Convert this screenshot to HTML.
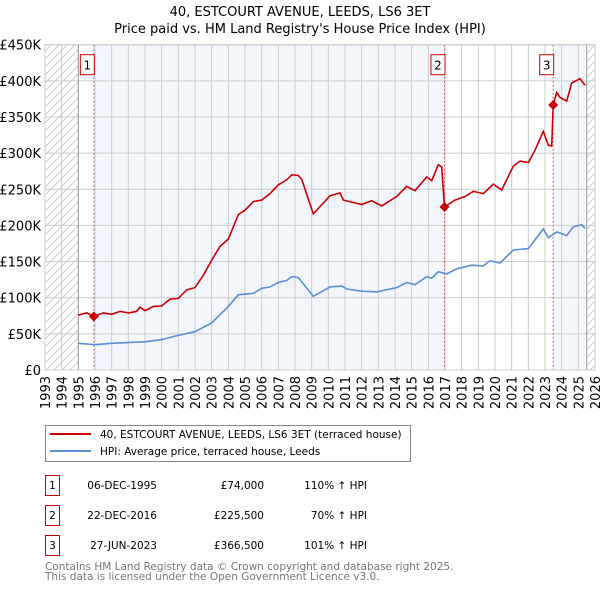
<!DOCTYPE html>
<html><head><meta charset="utf-8"><style>
body{margin:0;background:#fff;width:600px;height:590px;overflow:hidden;font-family:"DejaVu Sans","Liberation Sans",sans-serif;}
svg{position:absolute;left:0;top:0}
text{font-family:"DejaVu Sans","Liberation Sans",sans-serif;}
</style></head><body>
<svg id="c" width="600" height="590"></svg>
<script>
const hpiYears=[1995,1996,1997,1998,1999,2000,2001,2002,2003,2004,2004.6,2005,2005.5,2006,2006.5,2007,2007.5,2007.8,2008.2,2008.3,2009.1,2010.1,2010.8,2011.1,2012,2012.9,2014.1,2014.7,2015.2,2015.9,2016.2,2016.6,2017.1,2017.7,2018.6,2019.3,2019.7,2020.3,2021.1,2022,2022.9,2023.2,2023.7,2024.3,2024.7,2025.2,2025.4];
const hpiValues=[37,35,37,38,39,42,48,53,65,88,104,105,106,113,115,121,124,129,128,125,102,115,116,112,109,108,114,121,118,129,127,136,133,140,145,144,151,148,166,168,195,183,191,186,198,201,196];
const priceYears=[1995,1995.5,1995.93,1996.5,1997,1997.5,1998,1998.5,1998.7,1999,1999.5,2000,2000.5,2001,2001.5,2002,2002.5,2003,2003.5,2004,2004.3,2004.6,2005,2005.5,2006,2006.5,2007,2007.5,2007.8,2008.2,2008.4,2009.1,2010.1,2010.7,2010.9,2012,2012.6,2013.2,2014.1,2014.7,2015.2,2015.9,2016.2,2016.6,2016.8,2016.97,2017.6,2018.2,2018.7,2019.3,2019.9,2020.4,2021.1,2021.5,2022,2022.4,2022.9,2023.2,2023.4,2023.49,2023.7,2023.9,2024.3,2024.6,2025.1,2025.4];
const priceValues=[76,79,74,79,77,81,79,81,87,82,88,88.5,98,99,111,114,131,152,171,181,198,215,221,233,235,244,256,263,270,269,264,216,241,245,235,229,234,227,240,254,248,267,262,284,281,225.5,235,240,247,244,257,249,282,289,287,304,330,311,310,366.5,384,377,372,397,403,394];
const sales=[{y:1995.93,v:74,n:"1"},{y:2016.97,v:225.5,n:"2"},{y:2023.49,v:366.5,n:"3"}];
const yTicks=[0,50,100,150,200,250,300,350,400,450];
const yLabels=["£0","£50K","£100K","£150K","£200K","£250K","£300K","£350K","£400K","£450K"];
const xYears=[1993,1994,1995,1996,1997,1998,1999,2000,2001,2002,2003,2004,2005,2006,2007,2008,2009,2010,2011,2012,2013,2014,2015,2016,2017,2018,2019,2020,2021,2022,2023,2024,2025,2026];

const L=45,R=595,T=44.7,B=370;
const X=y=>L+(y-1993)*(R-L)/33;
const Y=v=>B-v*(B-T)/450;
const svg=document.getElementById('c');
const NS="http://www.w3.org/2000/svg";
function mk(tag,attrs,parent){const e=document.createElementNS(NS,tag);for(const k in attrs)e.setAttribute(k,attrs[k]);(parent||svg).appendChild(e);return e;}

const defs=mk('defs',{});
const pat=mk('pattern',{id:'h',width:8,height:8,patternUnits:'userSpaceOnUse'},defs);
mk('path',{d:'M0,8 L8,0 M-2,2 L2,-2 M6,10 L10,6',stroke:'#ccc','stroke-width':1},pat);

let e;
e=mk('text',{x:300,y:16,'text-anchor':'middle','font-size':13});e.textContent="40, ESTCOURT AVENUE, LEEDS, LS6 3ET";

e=mk('text',{x:300,y:33,'text-anchor':'middle','font-size':13});e.textContent="Price paid vs. HM Land Registry's House Price Index (HPI)";


e=mk('rect',{x:L,y:T,width:X(1995)-L,height:B-T,fill:'url(#h)'});

e=mk('rect',{x:X(sales[0].y),y:T,width:X(sales[1].y)-X(sales[0].y),height:B-T,fill:'#f3f6fd'});

e=mk('rect',{x:X(sales[2].y),y:T,width:X(2025.5)-X(sales[2].y),height:B-T,fill:'#f3f6fd'});

e=mk('rect',{x:X(2025.5),y:T,width:R-X(2025.5),height:B-T,fill:'url(#h)'});


yTicks.forEach((v,i)=>{
  e=mk('line',{x1:L,x2:R,y1:Y(v),y2:Y(v),stroke:'#ccc','stroke-width':1});
  
  e=mk('text',{x:L-4,y:Y(v)+5,'text-anchor':'end','font-size':13});e.textContent=yLabels[i];
  
});
xYears.forEach(yr=>{
  e=mk('line',{x1:X(yr),x2:X(yr),y1:T,y2:B,stroke:'#ccc','stroke-width':1});
  
  e=mk('text',{x:0,y:0,'text-anchor':'end','font-size':13,transform:`translate(${X(yr)+5},${B+6}) rotate(-90)`});e.textContent=yr;
  
});
e=mk('line',{x1:X(1995),x2:X(1995),y1:T,y2:B,stroke:'#999','stroke-width':1});

e=mk('line',{x1:X(2025.5),x2:X(2025.5),y1:T,y2:B,stroke:'#999','stroke-width':1});


sales.forEach(s=>{
  e=mk('line',{x1:X(s.y),x2:X(s.y),y1:T,y2:B,stroke:'#e06060','stroke-width':1,'stroke-dasharray':'2,2'});
  
  const g=mk('g',{});
  
  mk('rect',{x:X(s.y)-13.5,y:T+10,width:14,height:20,fill:'#fff',stroke:'#c00'},g);
  const t=mk('text',{x:X(s.y)-6.5,y:T+25,'text-anchor':'middle','font-size':12},g);t.textContent=s.n;
});

const hp=hpiYears.map((y,i)=>`${X(y).toFixed(1)},${Y(hpiValues[i]).toFixed(1)}`).join(' ');
e=mk('polyline',{points:hp,fill:'none',stroke:'#5b8fd6','stroke-width':1.6});

const pp=priceYears.map((y,i)=>`${X(y).toFixed(1)},${Y(priceValues[i]).toFixed(1)}`).join(' ');
e=mk('polyline',{points:pp,fill:'none',stroke:'#cc0000','stroke-width':1.6});

sales.forEach(s=>{
  const x=X(s.y),y=Y(s.v);
  e=mk('polygon',{points:`${x},${y-5} ${x+5},${y} ${x},${y+5} ${x-5},${y}`,fill:'#cc0000'});
  
});
e=mk('rect',{x:L,y:T,width:R-L,height:B-T,fill:'none',stroke:'#ccc'});


const lg=mk('g',{});
mk('rect',{x:45.5,y:425.5,width:365,height:36,fill:'#fff',stroke:'#888'},lg);
mk('line',{x1:50,x2:91,y1:434,y2:434,stroke:'#cc0000','stroke-width':2},lg);
mk('line',{x1:50,x2:91,y1:451,y2:451,stroke:'#5b8fd6','stroke-width':2},lg);
e=mk('text',{x:100,y:438,'font-size':10.5},lg);e.textContent="40, ESTCOURT AVENUE, LEEDS, LS6 3ET (terraced house)";

e=mk('text',{x:100,y:455,'font-size':10.5},lg);e.textContent="HPI: Average price, terraced house, Leeds";


const rows=[["1","06-DEC-1995","£74,000","110% ↑ HPI"],["2","22-DEC-2016","£225,500","70% ↑ HPI"],["3","27-JUN-2023","£366,500","101% ↑ HPI"]];
rows.forEach((r,i)=>{
  const g=mk('g',{});
  const y0=475+i*30;
  mk('rect',{x:45.5,y:y0+0.5,width:14,height:20,fill:'none',stroke:'#c00'},g);
  let t=mk('text',{x:52.5,y:y0+14,'text-anchor':'middle','font-size':10.5},g);t.textContent=r[0];
  t=mk('text',{x:157,y:y0+14,'text-anchor':'end','font-size':10.5},g);t.textContent=r[1];
  t=mk('text',{x:264,y:y0+14,'text-anchor':'end','font-size':10.5},g);t.textContent=r[2];
  t=mk('text',{x:367,y:y0+14,'text-anchor':'end','font-size':10.5},g);t.textContent=r[3];
});
e=mk('text',{x:45,y:570,'font-size':10.5,fill:'#777'});e.textContent="Contains HM Land Registry data © Crown copyright and database right 2025.";

e=mk('text',{x:45,y:580,'font-size':10.5,fill:'#777'});e.textContent="This data is licensed under the Open Government Licence v3.0.";

</script>
</body></html>
